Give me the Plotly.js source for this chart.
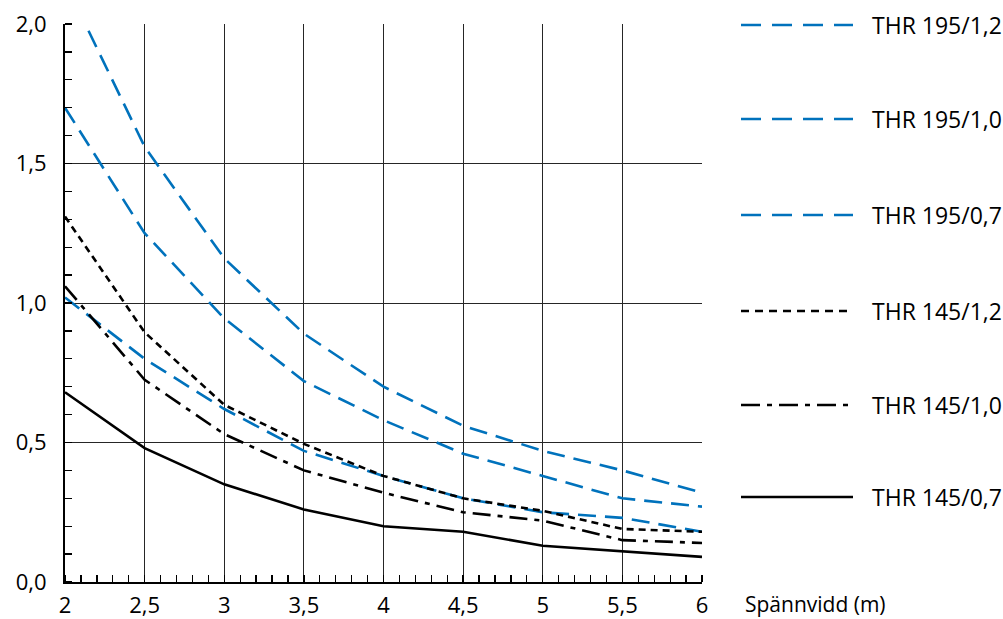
<!DOCTYPE html>
<html>
<head>
<meta charset="utf-8">
<script src="https://cdn.plot.ly/plotly-3.0.1.min.js"></script>
<style>html,body{margin:0;padding:0;background:#fff;}#chart{width:1003px;height:619px;}</style>
</head>
<body>
<div id="chart"></div>
<script>
const spans = [2, 2.5, 3, 3.5, 4, 4.5, 5, 5.5, 6];
const xTickVals = [2, 2.5, 3, 3.5, 4, 4.5, 5, 5.5, 6];
const xTickText = ["2", "2,5", "3", "3,5", "4", "4,5", "5", "5,5", "6"];
const yTickVals = [0, 0.5, 1, 1.5, 2];
const yTickText = ["0,0", "0,5", "1,0", "1,5", "2,0"];
const seriesNames = ["THR 195/1,2", "THR 195/1,0", "THR 195/0,7", "THR 145/1,2", "THR 145/1,0", "THR 145/0,7"];
const thr195_12 = [2.15, 1.56, 1.16, 0.89, 0.70, 0.56, 0.47, 0.40, 0.32];
const thr195_10 = [1.70, 1.25, 0.945, 0.72, 0.58, 0.46, 0.38, 0.30, 0.27];
const thr195_07 = [1.02, 0.80, 0.62, 0.47, 0.38, 0.30, 0.25, 0.23, 0.18];
const thr145_12 = [1.31, 0.895, 0.635, 0.495, 0.38, 0.30, 0.255, 0.19, 0.18];
const thr145_10 = [1.06, 0.725, 0.53, 0.40, 0.32, 0.25, 0.22, 0.15, 0.14];
const thr145_07 = [0.68, 0.48, 0.35, 0.26, 0.20, 0.18, 0.13, 0.11, 0.09];
const xTitle = "Spännvidd (m)";

const blue = "#0072BC";
const values = [thr195_12, thr195_10, thr195_07, thr145_12, thr145_10, thr145_07];
const styles = [
  {color: blue, dash: "18px,9px", legDash: "20px,11px"},
  {color: blue, dash: "18px,9px", legDash: "20px,11px"},
  {color: blue, dash: "18px,9px", legDash: "20px,11px"},
  {color: "#000", dash: "7px,5px", legDash: "8px,6px"},
  {color: "#000", dash: "18px,7px,5px,7px", legDash: "19px,7px,5px,7px"},
  {color: "#000", dash: "solid", legDash: "solid"}
];

const traces = values.map((v, i) => ({
  x: spans, y: v, type: "scatter", mode: "lines", name: seriesNames[i],
  line: {color: styles[i].color, width: 2.6, dash: styles[i].dash},
  showlegend: false, hoverinfo: "skip"
}));

const font = "'Open Sans', 'Noto Sans', sans-serif";
const legendPy = [25, 119, 215, 311, 405, 497];
const plotL = 65, plotR = 702, plotT = 24, plotB = 582;
const px2x = p => (p - plotL) / (plotR - plotL);
const py2y = p => (plotB - p) / (plotB - plotT);

const shapes = [];
const annotations = [];
seriesNames.forEach((n, i) => {
  const yy = py2y(legendPy[i]);
  shapes.push({type: "line", xref: "paper", yref: "paper", x0: px2x(741), x1: px2x(853), y0: yy, y1: yy,
    line: {color: styles[i].color, width: 2.6, dash: styles[i].legDash}});
  annotations.push({xref: "paper", yref: "paper", x: px2x(870), y: yy, xanchor: "left", yanchor: "middle",
    text: n, showarrow: false, font: {family: font, size: 23, color: "#000"}});
});
annotations.push({xref: "paper", yref: "paper", x: px2x(743), y: py2y(604), xanchor: "left", yanchor: "middle",
  text: xTitle, showarrow: false, font: {family: font, size: 21, color: "#000"}});

const layout = {
  width: 1003, height: 619,
  margin: {l: plotL, r: 1003 - plotR, t: plotT, b: 619 - plotB, pad: 0},
  paper_bgcolor: "#fff", plot_bgcolor: "#fff",
  font: {family: font, size: 22, color: "#000"},
  showlegend: false,
  xaxis: {
    range: [2, 6], tickvals: xTickVals, ticktext: xTickText, ticks: "",
    showgrid: true, gridcolor: "#262626", gridwidth: 1,
    showline: true, linecolor: "#000", linewidth: 2, zeroline: false,
    ticklabelstandoff: 3,
    tickfont: {family: font, size: 22, color: "#000"},
    minor: {dtick: 0.1, tick0: 2, ticks: "inside", ticklen: 7, tickwidth: 1.3, tickcolor: "#000", showgrid: false}
  },
  yaxis: {
    range: [0, 2], tickvals: yTickVals, ticktext: yTickText, ticks: "",
    showgrid: true, gridcolor: "#262626", gridwidth: 1,
    showline: true, linecolor: "#000", linewidth: 2, zeroline: false,
    ticklabelstandoff: 12,
    tickfont: {family: font, size: 22, color: "#000"},
    minor: {dtick: 0.1, tick0: 0, ticks: "inside", ticklen: 7, tickwidth: 1.3, tickcolor: "#000", showgrid: false}
  },
  shapes: shapes,
  annotations: annotations
};

Plotly.newPlot("chart", traces, layout, {displayModeBar: false, staticPlot: true});
</script>
</body>
</html>
